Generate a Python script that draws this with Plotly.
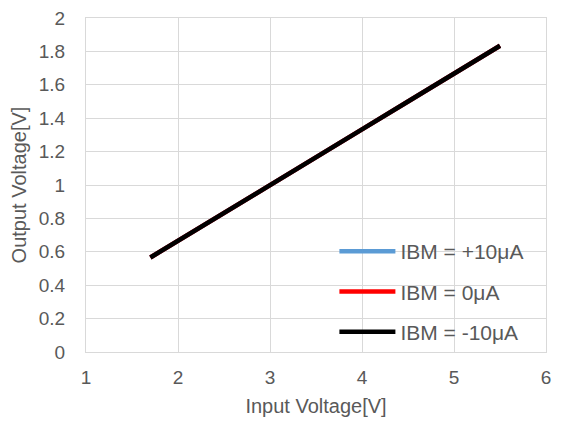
import plotly.graph_objects as go

# Input voltage [V] and output voltage [V]
vin = [1.7, 2.0, 2.5, 3.0, 3.5, 4.0, 4.5, 5.0, 5.5]
vout_p10 = [0.566, 0.667, 0.833, 1.0, 1.167, 1.333, 1.5, 1.667, 1.834]
vout_0 = [0.566, 0.667, 0.833, 1.0, 1.167, 1.333, 1.5, 1.667, 1.834]
vout_m10 = [0.566, 0.667, 0.833, 1.0, 1.167, 1.333, 1.5, 1.667, 1.834]

names = ["IBM = +10μA", "IBM = 0μA", "IBM = -10μA"]
colors = ["#5b9bd5", "#ff0000", "#000000"]
series = [vout_p10, vout_0, vout_m10]

font_family = "Arial, Liberation Sans, sans-serif"
grey = "#595959"
grid = "#d9d9d9"

fig = go.Figure()

for i, (name, color, ys) in enumerate(zip(names, colors, series)):
    fig.add_trace(go.Scatter(
        x=vin,
        y=ys,
        name=name,
        mode="lines",
        legendgroup=str(i),
        line=dict(color=color, width=4.5)))

# the page body has an 8px margin all round, so the figure is sized to
# fit inside what is left without making the page scroll
fig.update_layout(
    width=545,
    height=409,
    margin=dict(l=78, r=7, t=10, b=65),
    paper_bgcolor="white",
    plot_bgcolor="white",
    font=dict(family=font_family, size=19, color=grey),
    showlegend=True,
    legend=dict(
        x=0.54,
        y=0.0,
        xanchor="left",
        yanchor="bottom",
        bgcolor="rgba(0,0,0,0)",
        font=dict(size=21, color=grey),
        tracegroupgap=10,
        itemwidth=56))

fig.update_xaxes(
    range=[1, 6],
    dtick=1,
    showgrid=True,
    gridcolor=grid,
    showline=True,
    mirror=True,
    linecolor=grid,
    zeroline=False,
    ticks="outside",
    ticklen=8,
    tickcolor="rgba(0,0,0,0)",
    ticklabeloverflow="allow",
    automargin=False,
    title_text="Input Voltage[V]",
    title_font=dict(size=20, color=grey),
    title_standoff=12)

fig.update_yaxes(
    range=[0, 2],
    dtick=0.2,
    showgrid=True,
    gridcolor=grid,
    showline=True,
    mirror=True,
    linecolor=grid,
    zeroline=False,
    ticks="outside",
    ticklen=16,
    tickcolor="rgba(0,0,0,0)",
    ticklabeloverflow="allow",
    automargin=False,
    title_text="Output Voltage[V]",
    title_font=dict(size=20, color=grey),
    title_standoff=10)

fig.write_html("out.html")
